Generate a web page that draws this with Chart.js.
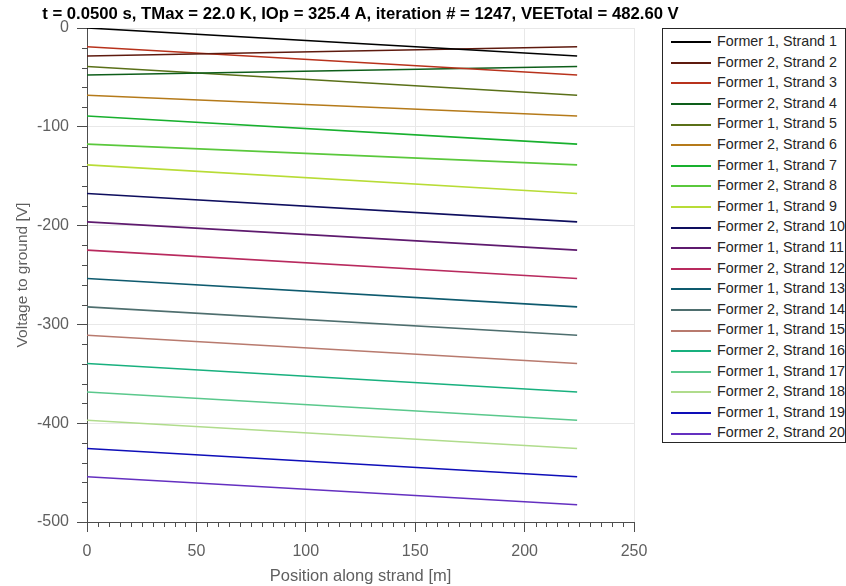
<!DOCTYPE html>
<html>
<head>
<meta charset="utf-8">
<script src="https://cdn.jsdelivr.net/npm/chart.js@4"></script>
<style>
  body { margin: 0; background: #fff; }
  #wrap { position: relative; width: 846px; height: 586px; }
  #legend {
    position: absolute; left: 662px; top: 28px; width: 184px; height: 415px;
    box-sizing: border-box; border: 1px solid #262626; background: #fff;
    padding-top: 2px; font-family: "Liberation Sans", Arial, sans-serif;
    font-size: 14.3px; color: #262626;
  }
  .row { height: 20.6px; line-height: 20.6px; white-space: nowrap; }
  .swatch { display: inline-block; width: 40px; height: 2px; margin: 0 6px 0 8px; vertical-align: middle; }
</style>
</head>
<body>
<div id="wrap">
  <canvas id="chart" width="846" height="586"></canvas>
  <div id="legend"></div>
</div>
<script>
/* ================= DATA ================= */
const positions = [0, 224];

const strandLabels = [
  "Former 1, Strand 1", "Former 2, Strand 2", "Former 1, Strand 3", "Former 2, Strand 4",
  "Former 1, Strand 5", "Former 2, Strand 6", "Former 1, Strand 7", "Former 2, Strand 8",
  "Former 1, Strand 9", "Former 2, Strand 10", "Former 1, Strand 11", "Former 2, Strand 12",
  "Former 1, Strand 13", "Former 2, Strand 14", "Former 1, Strand 15", "Former 2, Strand 16",
  "Former 1, Strand 17", "Former 2, Strand 18", "Former 1, Strand 19", "Former 2, Strand 20"
];

// voltage at start (x = 0) and end (x = 224 m) of each strand
const startVoltage = [
  0, -28.4, -19.0, -47.6, -39.0, -68.0, -89.0, -117.5, -138.5, -167.5,
  -196.2, -224.8, -253.6, -282.3, -311.0, -339.6, -368.4, -397.0, -425.6, -454.2
];
const endVoltage = [
  -28.4, -19.0, -47.6, -39.0, -68.0, -89.0, -117.5, -138.5, -167.5, -196.2,
  -224.8, -253.6, -282.3, -311.0, -339.6, -368.4, -397.0, -425.6, -454.2, -482.6
];

const xTicks = [0, 50, 100, 150, 200, 250];
const yTicks = [-500, -400, -300, -200, -100, 0];

const titleText = "t = 0.0500 s, TMax = 22.0 K, IOp = 325.4 A, iteration # = 1247, VEETotal = 482.60 V";

/* ================= STYLE ================= */
const colors = [
  "#000000", "#5e1a0e", "#b8321c", "#0e5e1a", "#5a7018", "#b57a1a", "#18b02e",
  "#5ac83c", "#b8dc36", "#0e0e5e", "#5e1a6e", "#b82a5e", "#0e5a6e", "#4e6e6e",
  "#b87a6e", "#18b07e", "#5ac88c", "#b0dc8c", "#0e0eb8", "#6430c0"
];
const AXIS = "#4d4d4d";
const LABEL = "#5f5f5f";
const GRID = "#e8e8e8";
const FONT = "'Liberation Sans', Arial, sans-serif";

Chart.defaults.font.family = FONT;

/* ================= PLUGINS ================= */
// title centred over the plot area (runs wider than it)
const plotTitle = {
  id: "plotTitle",
  afterDraw(chart) {
    const { ctx, chartArea } = chart;
    ctx.save();
    ctx.font = "bold 16.7px " + FONT;
    ctx.fillStyle = "#000";
    ctx.textAlign = "center";
    ctx.textBaseline = "middle";
    ctx.fillText(titleText, (chartArea.left + chartArea.right) / 2, 14);
    ctx.restore();
  }
};

const minorTicks = {
  id: "minorTicks",
  afterDraw(chart) {
    const { ctx, scales: { x, y } } = chart;
    ctx.save();
    ctx.strokeStyle = AXIS;
    ctx.lineWidth = 1;
    ctx.beginPath();
    for (let v = 5; v < 250; v += 5) {
      if (v % 50 === 0) continue;
      const px = Math.round(x.getPixelForValue(v)) + 0.5;
      ctx.moveTo(px, y.bottom);
      ctx.lineTo(px, y.bottom + 5);
    }
    for (let v = -480; v < 0; v += 20) {
      if (v % 100 === 0) continue;
      const py = Math.round(y.getPixelForValue(v)) + 0.5;
      ctx.moveTo(x.left - 5, py);
      ctx.lineTo(x.left, py);
    }
    ctx.stroke();
    ctx.restore();
  }
};

/* ================= CHART ================= */
new Chart(document.getElementById("chart"), {
  type: "line",
  data: {
    datasets: strandLabels.map((label, i) => ({
      label,
      data: positions.map((p, j) => ({ x: p, y: j === 0 ? startVoltage[i] : endVoltage[i] })),
      borderColor: colors[i],
      backgroundColor: colors[i],
      borderWidth: 1.6,
      pointRadius: 0,
      tension: 0
    }))
  },
  options: {
    responsive: false,
    animation: false,
    layout: { padding: { top: 28, right: 212, bottom: 0, left: 0 } },
    plugins: {
      legend: { display: false },
      tooltip: { enabled: false },
      title: { display: false }
    },
    scales: {
      x: {
        type: "linear",
        min: 0,
        max: 250,
        afterBuildTicks: s => { s.ticks = xTicks.map(v => ({ value: v })); },
        afterFit: s => { s.height = 64; },
        grid: { color: GRID, tickColor: AXIS, tickLength: 10 },
        border: { color: AXIS },
        ticks: { color: LABEL, font: { size: 16 }, padding: 10, maxRotation: 0 },
        title: { display: true, text: "Position along strand [m]", color: LABEL, font: { size: 16.5 }, padding: { top: 0, bottom: 0 } }
      },
      y: {
        type: "linear",
        min: -500,
        max: 0,
        afterBuildTicks: s => { s.ticks = yTicks.map(v => ({ value: v })); },
        afterFit: s => { s.width = 87; },
        grid: { color: GRID, tickColor: AXIS, tickLength: 10 },
        border: { color: AXIS },
        ticks: { color: LABEL, font: { size: 16 }, padding: 8 },
        title: { display: true, text: "Voltage to ground [V]", color: LABEL, font: { size: 15.5 }, padding: { top: 13, bottom: 0 } }
      }
    }
  },
  plugins: [plotTitle, minorTicks]
});

/* ================= LEGEND ================= */
const legend = document.getElementById("legend");
strandLabels.forEach((label, i) => {
  const row = document.createElement("div");
  row.className = "row";
  row.innerHTML = `<span class="swatch" style="background:${colors[i]}"></span>${label}`;
  legend.appendChild(row);
});
</script>
</body>
</html>
